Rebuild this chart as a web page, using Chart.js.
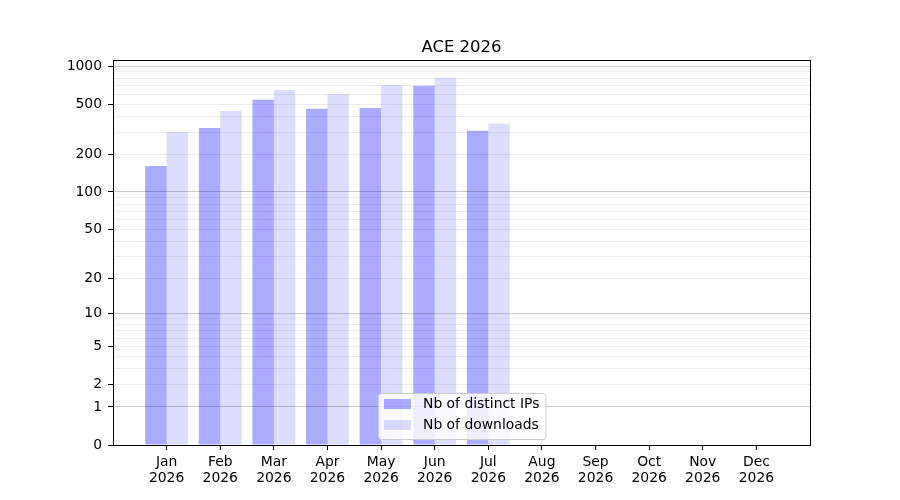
<!DOCTYPE html>
<html>
<head>
<meta charset="utf-8">
<title>ACE 2026</title>
<script src="https://cdn.jsdelivr.net/npm/chart.js@4/dist/chart.umd.min.js"></script>
<style>
  html, body { margin: 0; padding: 0; background: #fff; }
  canvas { display: block; }
</style>
</head>
<body>
<canvas id="AceChart" width="900" height="500"></canvas>
<script>
const months = ['Jan', 'Feb', 'Mar', 'Apr', 'May', 'Jun', 'Jul', 'Aug', 'Sep', 'Oct', 'Nov', 'Dec'];
const yearLabel = '2026';
const chartTitle = 'ACE 2026';
const distinctIPs = [161, 324, 541, 459, 467, 699, 307, 0, 0, 0, 0, 0];
const downloads = [301, 442, 649, 603, 711, 809, 349, 0, 0, 0, 0, 0];
const yLabelTicks = [0, 1, 2, 5, 10, 20, 50, 100, 200, 500, 1000];
const yMinorTicks = [3, 4, 6, 7, 8, 9, 30, 40, 60, 70, 80, 90, 300, 400, 600, 700, 800, 900];
const yDecades = [1, 10, 100, 1000];

const tickFont = { family: 'DejaVu Sans', size: 13.9, lineHeight: 1.15 };

// y axis is log10(1 + v), so 0 sits on the bottom edge
const fwd = v => Math.log10(1 + v);
const inv = t => Math.pow(10, t) - 1;

class Log1pScale extends Chart.LinearScale {
  buildTicks() {
    this.start = this.min;
    this.end = this.max;
    return yLabelTicks.concat(yMinorTicks)
      .sort((a, b) => a - b)
      .filter(v => v >= this.min && v <= this.max)
      .map(v => ({ value: v }));
  }
  configure() {
    super.configure();
    this._tStart = fwd(this.min);
    this._tRange = fwd(this.max) - this._tStart;
  }
  getPixelForValue(value) {
    if (value === null || isNaN(value)) return NaN;
    return this.getPixelForDecimal((fwd(value) - this._tStart) / this._tRange);
  }
  getValueForPixel(pixel) {
    return inv(this.getDecimalForPixel(pixel) * this._tRange + this._tStart);
  }
}
Log1pScale.id = 'log1p';
Log1pScale.defaults = Chart.LinearScale.defaults;
Chart.register(Log1pScale);

// title over the plot centre, axes frame and the boxed legend
const frameAndLegend = {
  id: 'frameAndLegend',
  afterDraw(chart) {
    const { ctx, chartArea: ca } = chart;
    ctx.save();
    ctx.strokeStyle = '#000';
    ctx.lineWidth = 1;
    ctx.strokeRect(ca.left + 0.5, ca.top + 0.5, ca.right - ca.left, ca.bottom - ca.top);

    ctx.fillStyle = '#000';
    ctx.font = '16.5px "DejaVu Sans"';
    ctx.textAlign = 'center';
    ctx.textBaseline = 'alphabetic';
    ctx.fillText(chartTitle, (ca.left + ca.right) / 2, ca.top - 8.5);

    ctx.font = '13.9px "DejaVu Sans"';
    const items = chart.data.datasets.map(ds => ({ text: ds.label, color: ds.backgroundColor }));
    const textW = Math.max(...items.map(it => ctx.measureText(it.text).width));
    const w = 45 + textW + 6;
    const h = 46;
    const x = Math.round((ca.left + ca.right) / 2 - w / 2);
    const y = Math.round(ca.bottom - 6 - h);
    ctx.beginPath();
    ctx.roundRect(x + 0.5, y + 0.5, w, h, 3);
    ctx.fillStyle = 'rgba(255,255,255,0.8)';
    ctx.fill();
    ctx.strokeStyle = '#cccccc';
    ctx.stroke();
    ctx.textBaseline = 'middle';
    ctx.textAlign = 'left';
    items.forEach((it, i) => {
      const ry = y + 6 + i * 21;
      ctx.fillStyle = it.color;
      ctx.fillRect(x + 6, ry, 27, 10);
      ctx.fillStyle = '#000';
      ctx.fillText(it.text, x + 45, ry + 5.5);
    });
    ctx.restore();
  }
};

const ctx = document.getElementById('AceChart').getContext('2d');
new Chart(ctx, {
  type: 'bar',
  data: {
    datasets: [{
      label: 'Nb of distinct IPs',
      data: months.map((m, i) => ({ x: i, y: distinctIPs[i] })),
      backgroundColor: 'rgba(0, 0, 255, 0.33)',
      borderWidth: 0,
    }, {
      label: 'Nb of downloads',
      data: months.map((m, i) => ({ x: i, y: downloads[i] })),
      backgroundColor: 'rgba(0, 0, 255, 0.135)',
      borderWidth: 0,
    }]
  },
  options: {
    responsive: false,
    animation: false,
    events: [],
    categoryPercentage: 0.8,
    barPercentage: 1.0,
    layout: { padding: { left: 0, right: 90, top: 60, bottom: 0 } },
    plugins: {
      legend: { display: false },
      tooltip: { enabled: false },
      title: { display: false },
    },
    scales: {
      x: {
        type: 'linear',
        min: -1,
        max: 12,
        offset: false,
        afterBuildTicks: (s) => { s.ticks = months.map((m, i) => ({ value: i })); },
        afterFit: (s) => { s.height = 55; },
        ticks: {
          autoSkip: false,
          maxRotation: 0,
          padding: 4,
          color: '#000',
          font: tickFont,
          callback: (v) => [months[v], yearLabel],
        },
        grid: {
          offset: false,
          drawOnChartArea: false,
          tickLength: 5,
          tickWidth: 1,
          tickColor: '#000',
        },
        border: { display: false },
      },
      y: {
        type: 'log1p',
        min: 0,
        max: 1120,
        afterFit: (s) => { s.width = 113; },
        ticks: {
          autoSkip: false,
          padding: 6,
          color: '#000',
          font: tickFont,
          callback: (v) => yLabelTicks.includes(v) ? String(v) : '',
        },
        grid: {
          z: 1,
          lineWidth: 1,
          tickLength: 5,
          tickWidth: 1,
          color: (c) => {
            const v = c.tick ? c.tick.value : 0;
            if (v === 0) return 'rgba(0,0,0,0)';
            return yDecades.includes(v) ? 'rgba(0,0,0,0.2)' : 'rgba(0,0,0,0.07)';
          },
          tickColor: (c) => (c.tick && yLabelTicks.includes(c.tick.value)) ? '#000' : 'rgba(0,0,0,0)',
        },
        border: { display: false },
      },
    },
  },
  plugins: [frameAndLegend],
});
</script>
</body>
</html>
